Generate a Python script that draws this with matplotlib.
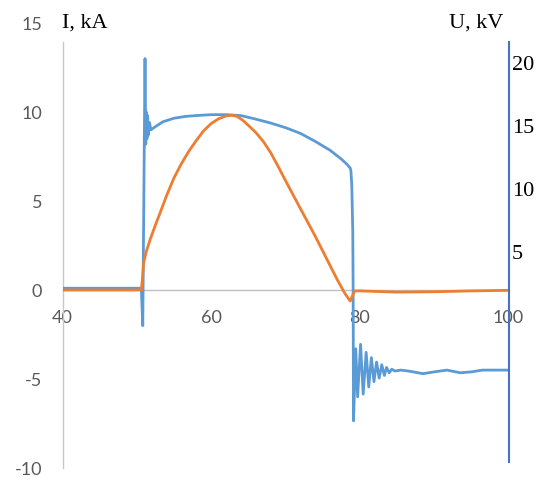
import matplotlib
matplotlib.use("Agg")
import matplotlib.pyplot as plt

plt.rcParams['axes.unicode_minus'] = False

# ---- data (time, current in kA on left axis scale) ----
blue_t = [40, 50.6, 50.8, 51.1, 51.2, 51.28, 51.36, 51.45, 51.55, 51.7, 51.9, 52.4, 53.5, 55.0,
          56.5, 58.0, 60.0, 62.0, 64.0, 66.0, 68.0, 70.0, 72.0, 74.0, 76.0, 77.5, 78.3, 78.7,
          78.8, 78.92, 79.05, 79.1, 79.15,
          79.45, 79.7, 80.1, 80.45, 80.85, 81.2, 81.55, 81.9, 82.25, 82.6, 82.95, 83.3, 83.6,
          83.95, 84.3, 84.7, 85.5, 86.5, 88.5, 90.0, 91.7, 93.5, 95.0, 96.5, 100]
blue_i = [0.1, 0.1, -2.0, 13.0, 8.2, 10.0, 8.5, 9.8, 8.7, 9.4, 9.0, 9.15, 9.45, 9.65,
          9.75, 9.8, 9.85, 9.85, 9.8, 9.6, 9.38, 9.12, 8.8, 8.35, 7.85, 7.36, 7.05, 6.85,
          6.7, 5.86, 3.26, 0.0, -7.35,
          -3.3, -6.0, -3.05, -5.85, -3.5, -5.45, -3.8, -5.15, -4.05, -4.95, -4.2, -4.8, -4.35,
          -4.65, -4.45, -4.55, -4.5, -4.55, -4.7, -4.6, -4.5, -4.65, -4.6, -4.5, -4.5]

orange_t = [40, 50.6, 50.75, 50.9, 51.3, 51.8, 52.5, 53.1, 54.0, 55.0, 56.0, 57.0, 58.0, 59.0,
            60.0, 61.0, 62.0, 62.8, 63.5, 64.3, 65.0, 66.0, 67.0, 68.0, 69.0, 70.0, 71.0, 72.0,
            73.0, 74.0, 75.0, 76.0, 77.0, 78.0, 78.7, 79.3, 80.0, 85.0, 90.0, 95.0, 100]
orange_i = [0.0, 0.0, 0.6, 1.5, 2.2, 2.85, 3.65, 4.3, 5.3, 6.3, 7.1, 7.8, 8.4, 8.95,
            9.35, 9.62, 9.78, 9.82, 9.75, 9.52, 9.25, 8.85, 8.35, 7.72, 6.95, 6.15, 5.36, 4.58,
            3.8, 3.02, 2.2, 1.37, 0.55, -0.2, -0.62, -0.05, -0.05, -0.12, -0.1, -0.05, -0.02]

x_ticks = [40, 60, 80, 100]
i_ticks = [-10, -5, 0, 5, 10, 15]
u_ticks = [5, 10, 15, 20]

W, H = 544, 481
fig = plt.figure(figsize=(W / 100, H / 100), dpi=100)
left, right = 62.5 / W, 508.5 / W
bottom, top = (H - 469) / H, (H - 24) / H
ax = fig.add_axes([left, bottom, right - left, top - bottom])
ax.set_xlim(40, 100)
ax.set_ylim(-10, 15)

ax.plot(blue_t, blue_i, color='#5b9bd5', lw=2.0, solid_joinstyle='round', zorder=3)
ax.plot(orange_t, orange_i, color='#ed7d31', lw=2.0, solid_joinstyle='round', zorder=4)

for s in ['top', 'right']:
    ax.spines[s].set_visible(False)
ax.spines['left'].set_color('#c8c8c8')
ax.spines['left'].set_linewidth(1.0)
ax.spines['left'].set_bounds(-10, 13.93)
ax.spines['bottom'].set_position(('data', 0))
ax.spines['bottom'].set_color('#bfbfbf')
ax.spines['bottom'].set_linewidth(1.0)

ax.set_xticks(x_ticks)
ax.set_yticks(i_ticks)
ax.set_xticklabels([str(v) for v in x_ticks])
ax.set_yticklabels([str(v) for v in i_ticks])
ax.tick_params(axis='x', length=0, pad=14, labelsize=13, labelcolor='#595959')
ax.tick_params(axis='y', length=0, pad=14.5, labelsize=13, labelcolor='#595959')
for lab in ax.get_xticklabels() + ax.get_yticklabels():
    lab.set_fontfamily('Lato')

# right voltage axis
ax2 = ax.twinx()
ax2.set_ylim(-12.18, 23.06)
for s in ['top', 'left', 'bottom']:
    ax2.spines[s].set_visible(False)
ax2.spines['right'].set_color('#4472c4')
ax2.spines['right'].set_linewidth(1.5)
ax2.spines['right'].set_bounds(-11.7, 21.55)
ax2.set_yticks(u_ticks)
ax2.set_yticklabels([str(v) for v in u_ticks])
ax2.tick_params(axis='y', length=0, pad=2.5, labelsize=16, labelcolor='black')
for lab in ax2.get_yticklabels():
    lab.set_fontfamily('Liberation Serif')

fig.text(62 / W, 1 - 28 / H, 'I, kA', fontsize=16, family='Liberation Serif',
         ha='left', va='baseline')
fig.text(503 / W, 1 - 28 / H, 'U, kV', fontsize=16, family='Liberation Serif',
         ha='right', va='baseline')

fig.savefig('out.png', dpi=100)
